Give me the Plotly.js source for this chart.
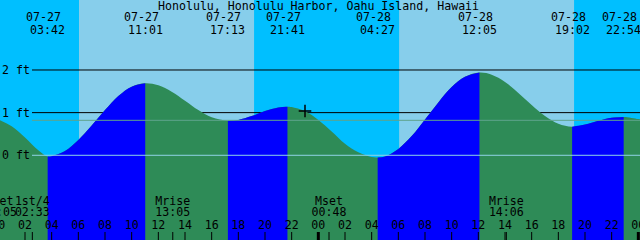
<!DOCTYPE html>
<html><head><meta charset="utf-8">
<script src="https://cdn.plot.ly/plotly-3.0.1.min.js"></script>
<style>html,body{margin:0;padding:0;background:#fff}#chart{width:640px;height:240px}</style>
</head><body><div id="chart"></div>
<script>
// ---------- data (hours counted from 07-27 00:00) ----------
const chartTitle = 'Honolulu, Honolulu Harbor, Oahu Island, Hawaii';
const tideHours = [0,1,2,3,3.70,4,5,6,7,8,9,10,11.017,12,13,14,15,16,17.217,18,19,20,21,21.683,22,23,24,25,26,27,28,28.45,29,30,31,32,33,34,35,36.083,37,38,39,40,41,42,43.033,44,45,46,46.9,48,48.3];
const tideFeet  = [0.84,0.68,0.42,0.12,-0.03,-0.02,0.10,0.36,0.70,1.06,1.39,1.61,1.69,1.64,1.49,1.28,1.06,0.89,0.81,0.83,0.92,1.04,1.12,1.14,1.13,1.03,0.83,0.56,0.27,0.07,-0.04,-0.05,-0.03,0.15,0.45,0.84,1.24,1.60,1.84,1.94,1.89,1.72,1.46,1.18,0.92,0.74,0.67,0.72,0.81,0.88,0.90,0.85,0.83];

const extremeHours = [3.70, 11.017, 17.217, 21.683, 28.45, 36.083, 43.033, 46.9];
const extremeDates = ['07-27','07-27','07-27','07-27','07-28','07-28','07-28','07-28'];
const extremeClock = ['03:42','11:01','17:13','21:41','04:27','12:05','19:02','22:54'];
const extremeKind  = ['low','high','low','high','low','high','low','high'];

const sunriseHours = [6.05, 30.06];
const sunsetHours  = [19.18, 43.18];

const moonHours = [0.083, 2.55, 13.083, 24.8, 38.1];
const moonNames = ['Mset','1st/4','Mrise','Mset','Mrise'];
const moonClock = ['00:05','02:33','13:05','00:48','14:06'];

const hourTicks  = [0,2,4,6,8,10,12,14,16,18,20,22,24,26,28,30,32,34,36,38,40,42,44,46,48];
const hourLabels = ['00','02','04','06','08','10','12','14','16','18','20','22','00','02','04','06','08','10','12','14','16','18','20','22','00'];

const levelFeet   = [0, 1, 2];
const levelLabels = ['0 ft','1 ft','2 ft'];
const meanLevelFeet = 0.82;

const nowHour = 23.0;
const nowFeet = 1.04;

// ---------- styling ----------
const FONT = {family:'DejaVu Sans Mono, monospace', size:11.6, color:'#000'};
const DAY = '#87CEEB', NIGHT = '#00BFFF', RISE = '#0000FF', FALL = '#2E8B57';
const X_RANGE = [0.125, 48.125];
const Y_RANGE = [-1.986, 3.641];
const Y_FLOOR = -3;

const traces = [];
function fillSegment(xs, ys, color){
  traces.push({x:[xs[0], xs[xs.length-1]], y:[Y_FLOOR, Y_FLOOR], mode:'lines',
    line:{width:0}, hoverinfo:'skip', showlegend:false});
  traces.push({x:xs, y:ys, mode:'lines', line:{width:0, shape:'spline', smoothing:1},
    fill:'tonexty', fillcolor:color, hoverinfo:'skip', showlegend:false});
}
// whole area under curve (falling colour), then rising stretches on top
fillSegment(tideHours, tideFeet, FALL);
for (let i = 0; i < extremeHours.length - 1; i++) {
  if (extremeKind[i] !== 'low') continue;
  const a = extremeHours[i], b = extremeHours[i+1];
  const xs = [], ys = [];
  tideHours.forEach((h, k) => { if (h >= a - 1e-6 && h <= b + 1e-6) { xs.push(h); ys.push(tideFeet[k]); } });
  fillSegment(xs, ys, RISE);
}

// now marker
traces.push({x:[nowHour], y:[nowFeet], mode:'markers', hoverinfo:'skip', showlegend:false,
  marker:{symbol:'cross-thin', size:9, line:{width:1.5, color:'#000'}}});

// bottom labels on pixel-row axis y2 (clipped at the plot edge like the reference)
function textRow(xs, row, labels){
  traces.push({x:xs, y:xs.map(()=>row), yaxis:'y2', mode:'text', text:labels,
    textposition:'middle center', textfont:FONT, hoverinfo:'skip', showlegend:false, cliponaxis:true});
}
textRow(hourTicks, 225.8, hourLabels);
textRow(moonHours, 201.7, moonNames);
textRow(moonHours, 212.8, moonClock);

// ---------- shapes ----------
const shapes = [];
sunriseHours.forEach((r, i) => shapes.push({type:'rect', xref:'x', yref:'paper', x0:r, x1:sunsetHours[i],
  y0:0, y1:1, fillcolor:DAY, line:{width:0}, layer:'below'}));
levelFeet.forEach(v => {
  if (v === 0) return;
  shapes.push({type:'line', xref:'paper', yref:'y', x0:0.05, x1:1, y0:v, y1:v,
    line:{color:'#000', width:1}, layer:'below'});
});
shapes.push({type:'line', xref:'paper', yref:'y', x0:0.05, x1:1, y0:meanLevelFeet, y1:meanLevelFeet,
  line:{color:'#5FA38C', width:1}, layer:'above'});
shapes.push({type:'line', xref:'paper', yref:'y', x0:0.05, x1:1, y0:0, y1:0,
  line:{color:'#8FD3E6', width:1}, layer:'above'});
hourTicks.forEach((h, i) => {
  const midnight = hourLabels[i] === '00';
  shapes.push({type:'line', xref:'x', yref:'paper', x0:h, x1:h, y0:0, y1:8/240,
    line:{color:'#000', width: midnight ? 3 : 1}, layer:'above'});
});
moonHours.forEach(h => shapes.push({type:'line', xref:'x', yref:'paper', x0:h, x1:h, y0:0, y1:8/240,
  line:{color:'#000', width:1}, layer:'above'}));

// ---------- annotations ----------
const annotations = [];
annotations.push({xref:'paper', yref:'y2', x:0.4977, y:5.5, text:chartTitle, showarrow:false,
  xanchor:'center', yanchor:'middle', font:FONT});
extremeHours.forEach((h, i) => {
  annotations.push({xref:'x', yref:'y2', x:h, y:17.2, text:extremeDates[i], showarrow:false,
    xanchor:'center', yanchor:'middle', xshift:-4, font:FONT});
  annotations.push({xref:'x', yref:'y2', x:h, y:29.5, text:extremeClock[i], showarrow:false,
    xanchor:'center', yanchor:'middle', font:FONT});
});
levelFeet.forEach((v, i) => annotations.push({xref:'paper', yref:'y', x:0, y:v, text:levelLabels[i],
  showarrow:false, xanchor:'left', yanchor:'middle', font:FONT}));

const layout = {
  width:640, height:240, margin:{l:0, r:0, t:0, b:0, pad:0},
  paper_bgcolor:NIGHT, plot_bgcolor:NIGHT, showlegend:false,
  xaxis:{range:X_RANGE, showgrid:false, zeroline:false, showticklabels:false, ticks:'', showline:false, fixedrange:true},
  yaxis:{range:Y_RANGE, showgrid:false, zeroline:false, showticklabels:false, ticks:'', showline:false, fixedrange:true},
  yaxis2:{range:[240, 0], overlaying:'y', visible:false, fixedrange:true},
  shapes:shapes, annotations:annotations
};
Plotly.newPlot('chart', traces, layout, {displayModeBar:false, staticPlot:true});
</script></body></html>
